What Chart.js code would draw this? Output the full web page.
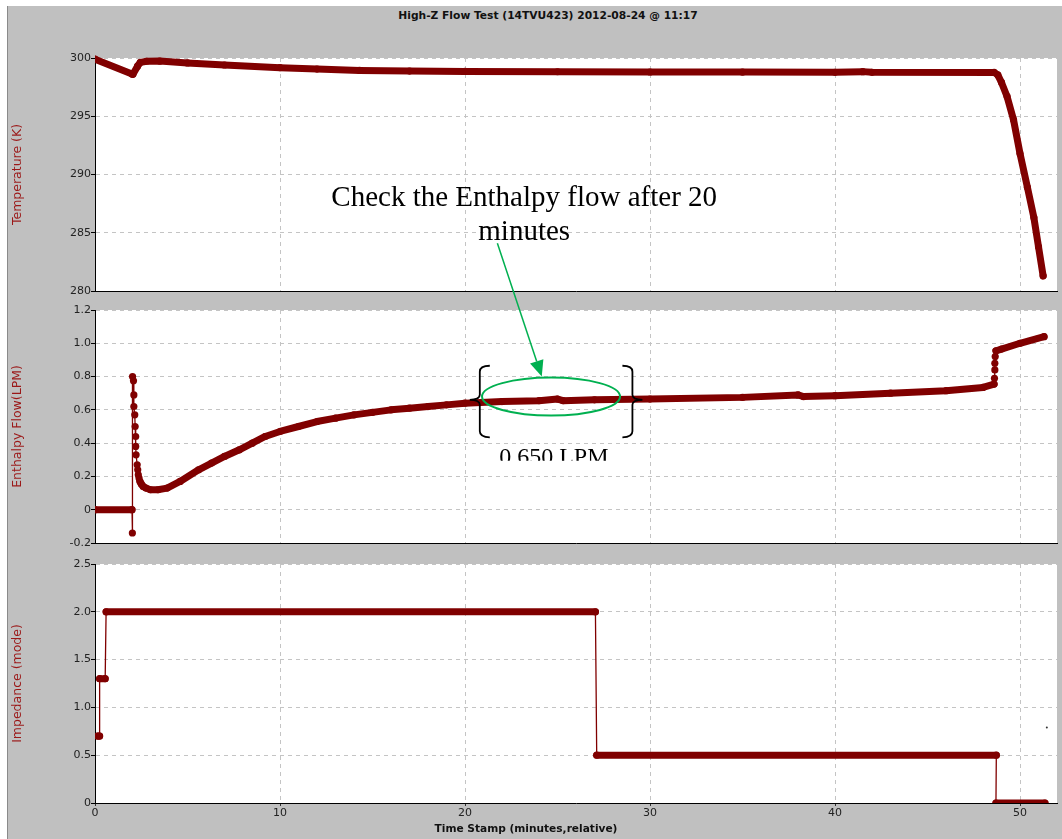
<!doctype html>
<html lang="en">
<head>
  <meta charset="utf-8">
  <title>High-Z Flow Test</title>
  <style>
    body { margin: 0; background: #fff; font-family: "DejaVu Sans", Verdana, sans-serif; }
    #frame { position: absolute; left: 7px; top: 6px; width: 1055px; height: 833px; background: #c0c0c0; border-left: 1px solid #8a8a8a; box-sizing: border-box; }
    canvas { position: absolute; }
    .title { position: absolute; font-weight: bold; font-size: 11px; color: #111; white-space: nowrap; transform: translateX(-50%); }
  </style>
</head>
<body>
  <div id="frame"></div>
  <div class="title" style="left:548px; top:9px; font-size:10.7px">High-Z Flow Test (14TVU423) 2012-08-24 @ 11:17</div>
  <canvas id="temp" style="left:8px; top:44px" width="1054" height="264"></canvas>
  <canvas id="enth" style="left:8px; top:296px" width="1054" height="264"></canvas>
  <canvas id="imp" style="left:8px; top:550px" width="1054" height="289"></canvas>
  <div class="title" style="left:526px; top:822px; font-size:10.6px">Time Stamp (minutes,relative)</div>
  <canvas id="notes" style="left:0; top:0" width="1062" height="839"></canvas>

  <script src="https://cdn.jsdelivr.net/npm/chart.js@4.4.0/dist/chart.umd.min.js"></script>
  <script>
    // time axis (minutes, relative)
    const timeTicks = [0, 10, 20, 30, 40, 50];

    // Temperature (K)
    const tempTicks = [280, 285, 290, 295, 300];
    const tempTime = [0, 2.0, 2.05, 2.3, 2.45, 2.8, 3.5, 5, 7, 10, 12, 14.3, 17, 20, 25, 30, 35, 40, 41.5, 42, 48.6,
                      48.8, 49.0, 49.3, 49.65, 50.0, 50.4, 50.75, 51.0, 51.25];
    const tempVals = [299.9, 298.62, 298.6, 299.3, 299.62, 299.72, 299.74, 299.58, 299.4, 299.17, 299.05, 298.93, 298.88, 298.85, 298.82, 298.8, 298.79, 298.77, 298.83, 298.77, 298.76,
                      298.55, 297.9, 296.7, 294.7, 291.8, 288.9, 286.3, 283.8, 281.3];

    // Enthalpy flow (LPM)
    const enthTicks = [-0.2, 0, 0.2, 0.4, 0.6, 0.8, 1.0, 1.2];
    const enthTickLabels = ['-0.2', '0', '0.2', '0.4', '0.6', '0.8', '1.0', '1.2'];
    const enthTime = [0, 2.0, 2.02, 2.03, 2.08, 2.1, 2.1, 2.15, 2.17, 2.2, 2.2, 2.22, 2.28, 2.31, 2.34, 2.38, 2.43, 2.5, 2.6,
                      2.75, 3.0, 3.4, 3.9, 4.6, 5.6, 6.3, 7, 7.8, 8.5, 9.2, 10, 11, 12, 13, 14, 15, 16, 17, 18, 19, 20, 22, 24, 25, 25.3, 27, 30, 35, 38, 38.3, 40, 43, 46, 48, 48.6,
                      48.62, 48.64, 48.64, 48.66, 48.7, 49, 50, 51.3];
    const enthVals = [0, 0, -0.14, 0.80, 0.775, 0.69, 0.62, 0.57, 0.50, 0.44, 0.38, 0.33, 0.27, 0.24, 0.21, 0.19, 0.17, 0.155, 0.14,
                      0.13, 0.12, 0.12, 0.13, 0.17, 0.24, 0.28, 0.32, 0.36, 0.40, 0.44, 0.47, 0.50, 0.53, 0.55, 0.57, 0.585, 0.60, 0.61, 0.62, 0.63, 0.64, 0.65, 0.655, 0.665, 0.655, 0.66, 0.665, 0.675, 0.69, 0.68, 0.685, 0.70, 0.715, 0.735, 0.755,
                      0.79, 0.84, 0.88, 0.92, 0.955, 0.965, 1.0, 1.04];

    // Impedance (mode)
    const impTicks = [0, 0.5, 1.0, 1.5, 2.0, 2.5];
    const impTickLabels = ['0', '0.5', '1.0', '1.5', '2.0', '2.5'];
    const impTime = [0.15, 0.25, 0.25, 0.55, 0.6, 27.05, 27.12, 48.72, 48.7, 51.35];
    const impVals = [0.7, 0.7, 1.3, 1.3, 2.0, 2.0, 0.5, 0.5, 0, 0];
    const strayTime = [51.45];
    const strayVals = [0.79];

    // notes drawn over the panels (data units of the panel they sit in)
    const noteLines = ['Check the Enthalpy flow after 20', 'minutes'];
    const noteAt = [23.2, 287.3, 284.4];          // x, baseline line 1, baseline line 2 (K)
    const arrowFrom = [21.75, 284.1];             // temperature panel
    const arrowTo = [24.15, 0.80];                // enthalpy panel
    const ringAt = [24.65, 0.68, 3.73, 0.114];    // cx, cy, rx (min), ry (LPM)
    const braceSpan = [20.8, 29.05, 0.865, 0.66, 0.435];
    const braceLabel = '0.650 LPM';
    const braceLabelAt = [24.8, 0.274, 0.294];    // x, baseline, clip bottom

    const RED = '#800000';
    const GRID = '#c4c4c4';
    const FONT = 'DejaVu Sans';
    const pts = (xs, ys) => xs.map((x, i) => ({x: x, y: ys[i]}));
    const steep = c => Math.abs(c.p1.y - c.p0.y) > 2 * Math.abs(c.p1.x - c.p0.x);

    const whiteArea = {
      id: 'whiteArea',
      beforeDraw(chart) {
        const a = chart.chartArea;
        chart.ctx.save();
        chart.ctx.fillStyle = '#fff';
        chart.ctx.fillRect(a.left, a.top, a.right - a.left, a.bottom - a.top);
        chart.ctx.restore();
      }
    };

    function panel(id, cfg) {
      const bottomAxis = !!cfg.showTime;
      return new Chart(document.getElementById(id), {
        type: 'line',
        data: {datasets: cfg.datasets},
        plugins: [whiteArea],
        options: {
          responsive: false,
          animation: false,
          events: [],
          layout: {padding: {top: 14, right: 5, bottom: bottomAxis ? 0 : 17, left: 0}},
          plugins: {legend: {display: false}, tooltip: {enabled: false}},
          scales: {
            x: {
              type: 'linear', min: 0, max: 52,
              afterBuildTicks: s => { s.ticks = timeTicks.map(v => ({value: v})); },
              afterFit: s => { s.height = bottomAxis ? 36 : 0; },
              grid: {color: GRID, drawTicks: bottomAxis, tickLength: 3, tickColor: '#333'},
              border: {display: true, color: '#000', width: 1, dash: [4, 4]},
              ticks: {display: bottomAxis, padding: 1, maxRotation: 0, color: '#222',
                      font: {family: FONT, size: 11}}
            },
            y: {
              type: 'linear', min: cfg.min, max: cfg.max,
              afterBuildTicks: s => { s.ticks = cfg.ticks.map(v => ({value: v})); },
              afterFit: s => { s.width = 87; },
              grid: {color: GRID, tickLength: 4, tickColor: '#000'},
              border: {display: true, color: '#000', width: 1, dash: [4, 4]},
              ticks: {padding: 0, color: '#222', font: {family: FONT, size: 11},
                      callback: (v, i) => cfg.labels[i]},
              title: {display: true, text: cfg.title, color: '#9b1818', padding: {top: 2, bottom: 0},
                      font: {family: FONT, size: 12.5}}
            }
          }
        }
      });
    }

    const lineStyle = {
      borderColor: RED, backgroundColor: RED, pointRadius: 3.6, pointBorderWidth: 0,
      pointHoverRadius: 0, borderCapStyle: 'round', borderJoinStyle: 'round',
      tension: 0, clip: {left: 0, top: 4, right: 6, bottom: 0}
    };

    const tempChart = panel('temp', {
      min: 280, max: 300, ticks: tempTicks, labels: tempTicks.map(String), title: 'Temperature (K)',
      datasets: [Object.assign({label: 'Temperature', data: pts(tempTime, tempVals), borderWidth: 7}, lineStyle)]
    });

    const enthChart = panel('enth', {
      min: -0.2, max: 1.2, ticks: enthTicks, labels: enthTickLabels, title: 'Enthalpy Flow(LPM)',
      datasets: [Object.assign({label: 'Enthalpy Flow', data: pts(enthTime, enthVals), borderWidth: 7,
        segment: {borderWidth: c => steep(c) ? 1.3 : 7}}, lineStyle)]
    });

    const impChart = panel('imp', {
      min: 0, max: 2.5, ticks: impTicks, labels: impTickLabels, title: 'Impedance (mode)', showTime: true,
      datasets: [
        Object.assign({label: 'Impedance', data: pts(impTime, impVals), borderWidth: 7,
          segment: {borderWidth: c => steep(c) ? 1.3 : 7}}, lineStyle),
        Object.assign({}, lineStyle, {label: 'stray', data: pts(strayTime, strayVals), showLine: false,
          pointRadius: 1, backgroundColor: '#333'})
      ]
    });

    // overlay notes, placed through the panels' own scales
    function at(chart, xv, yv) {
      const c = chart.canvas;
      return [c.offsetLeft + chart.scales.x.getPixelForValue(xv), c.offsetTop + chart.scales.y.getPixelForValue(yv)];
    }
    const g = document.getElementById('notes').getContext('2d');

    g.fillStyle = '#000';
    g.font = '29px "Liberation Serif"';
    g.textAlign = 'center';
    g.textBaseline = 'alphabetic';
    const t1 = at(tempChart, noteAt[0], noteAt[1]);
    const t2 = at(tempChart, noteAt[0], noteAt[2]);
    g.fillText(noteLines[0], t1[0], t1[1]);
    g.fillText(noteLines[1], t2[0], t2[1]);

    // arrow
    const a0 = at(tempChart, arrowFrom[0], arrowFrom[1]);
    const a1 = at(enthChart, arrowTo[0], arrowTo[1]);
    const ang = Math.atan2(a1[1] - a0[1], a1[0] - a0[0]);
    const hl = 16, hw = 7;
    const bx = a1[0] - hl * Math.cos(ang), by = a1[1] - hl * Math.sin(ang);
    g.strokeStyle = '#00b050';
    g.fillStyle = '#00b050';
    g.lineWidth = 1.5;
    g.beginPath(); g.moveTo(a0[0], a0[1]); g.lineTo(bx, by); g.stroke();
    g.beginPath();
    g.moveTo(a1[0], a1[1]);
    g.lineTo(bx + hw * Math.sin(ang), by - hw * Math.cos(ang));
    g.lineTo(bx - hw * Math.sin(ang), by + hw * Math.cos(ang));
    g.closePath(); g.fill();

    // ellipse
    const rc = at(enthChart, ringAt[0], ringAt[1]);
    const rx = enthChart.scales.x.getPixelForValue(ringAt[0] + ringAt[2]) - enthChart.scales.x.getPixelForValue(ringAt[0]);
    const ry = enthChart.scales.y.getPixelForValue(ringAt[1] - ringAt[3]) - enthChart.scales.y.getPixelForValue(ringAt[1]);
    g.lineWidth = 2;
    g.beginPath(); g.ellipse(rc[0], rc[1], rx, ry, 0, 0, Math.PI * 2); g.stroke();

    // braces
    function brace(xv, dir) {
      const top = at(enthChart, xv, braceSpan[2]);
      const mid = at(enthChart, xv, braceSpan[3]);
      const bot = at(enthChart, xv, braceSpan[4]);
      const x = top[0], h = 10 * dir, p = 10 * dir;
      g.beginPath();
      g.moveTo(x + h, top[1]);
      g.quadraticCurveTo(x, top[1], x, top[1] + 6);
      g.lineTo(x, mid[1] - 5);
      g.quadraticCurveTo(x, mid[1], x - p, mid[1]);
      g.quadraticCurveTo(x, mid[1], x, mid[1] + 5);
      g.lineTo(x, bot[1] - 6);
      g.quadraticCurveTo(x, bot[1], x + h, bot[1]);
      g.stroke();
    }
    g.strokeStyle = '#000';
    g.lineWidth = 1.8;
    brace(braceSpan[0], 1);
    brace(braceSpan[1], -1);

    // value label, cut off at its lower edge as in the source
    const lt = at(enthChart, braceLabelAt[0], braceLabelAt[1]);
    const lb = at(enthChart, braceLabelAt[0], braceLabelAt[2]);
    g.save();
    g.beginPath(); g.rect(lt[0] - 80, lb[1] - 30, 160, 30); g.clip();
    g.fillStyle = '#000';
    g.font = '24px "Liberation Serif"';
    g.textBaseline = 'alphabetic';
    g.fillText(braceLabel, lt[0], lt[1]);
    g.restore();
  </script>
</body>
</html>
